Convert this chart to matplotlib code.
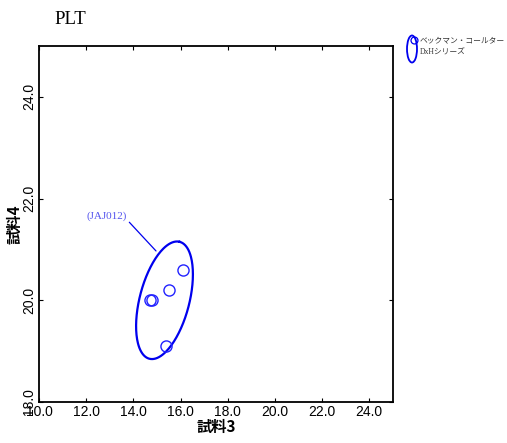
import numpy as np
import matplotlib.pyplot as plt
from matplotlib.patches import Ellipse

# dane
x_vals = [14.7, 14.8, 15.5, 16.1, 15.4]
y_vals = [20.0, 20.0, 20.2, 20.6, 19.1]
ell_center = (15.32, 20.0)
ell_major = (0.64, 1.15)   # wektor półosi wielkiej (dane)
ell_minor = (1.02, -0.12)  # wektor półosi małej (dane)
label_txt = '(JAJ012)'
legend_txt = 'ベックマン・コールター\nDxHシリーズ'
x_ticks = [10.0, 12.0, 14.0, 16.0, 18.0, 20.0, 22.0, 24.0]
y_ticks = [18.0, 20.0, 22.0, 24.0]

blue = '#0000ee'

fig = plt.figure(figsize=(5.07, 4.43), dpi=100)
ax = fig.add_axes([0.0769, 0.0926, 0.698, 0.8035])

t = np.linspace(0, 2 * np.pi, 200)
ex = ell_center[0] + ell_major[0] * np.cos(t) + ell_minor[0] * np.sin(t)
ey = ell_center[1] + ell_major[1] * np.cos(t) + ell_minor[1] * np.sin(t)
ax.plot(ex, ey, color=blue, lw=1.6)

ax.plot(x_vals, y_vals, 'o', mfc='none', mec='#2222ff', ms=8, mew=1.0)

ax.annotate(label_txt, xy=(14.96, 20.97), xytext=(12.0, 21.65),
            color='#5555ee', fontsize=8, family='Liberation Serif',
            ha='left', va='center',
            arrowprops=dict(arrowstyle='-', color=blue, lw=0.9,
                            shrinkA=0, shrinkB=0, relpos=(1.0, 0.2)))

ax.set_xlim(10, 25)
ax.set_ylim(18, 25)
ax.set_xticks(x_ticks)
ax.set_yticks(y_ticks)
ax.set_xticklabels([f'{v:.1f}' for v in x_ticks], family='Liberation Sans', fontsize=10)
ax.set_yticklabels([f'{v:.1f}' for v in y_ticks], family='Liberation Sans', fontsize=10,
                   rotation=90, va='center')
ax.tick_params(direction='in', length=3, width=0.8, top=True, right=True, pad=2)
for s in ax.spines.values():
    s.set_linewidth(1.3)

ax.set_xlabel('試料3', family=['Noto Sans CJK JP', 'DejaVu Sans'], fontsize=11,
              fontweight='bold', labelpad=0)
ax.set_ylabel('試料4', family=['Noto Sans CJK JP', 'DejaVu Sans'], fontsize=11,
              fontweight='bold', labelpad=0)

fig.text(0.108, 0.955, 'PLT', family='Liberation Serif', fontsize=13.5, va='center')

# legenda
fig.patches.append(Ellipse((412 / 507, 1 - 49 / 443), 10 / 507, 27 / 443,
                           transform=fig.transFigure, fill=False, ec=blue, lw=1.3))
fig.lines.append(plt.Line2D([414 / 507], [1 - 40 / 443], transform=fig.transFigure,
                            marker='o', mfc='none', mec=blue, ms=5, mew=0.9))
fig.text(420 / 507, 1 - 46 / 443, legend_txt,
         family=['Liberation Serif', 'Noto Sans CJK JP', 'DejaVu Sans'],
         fontsize=5.6, va='center', ha='left', linespacing=1.5, color='#333333')

fig.savefig('out.png', dpi=100)
